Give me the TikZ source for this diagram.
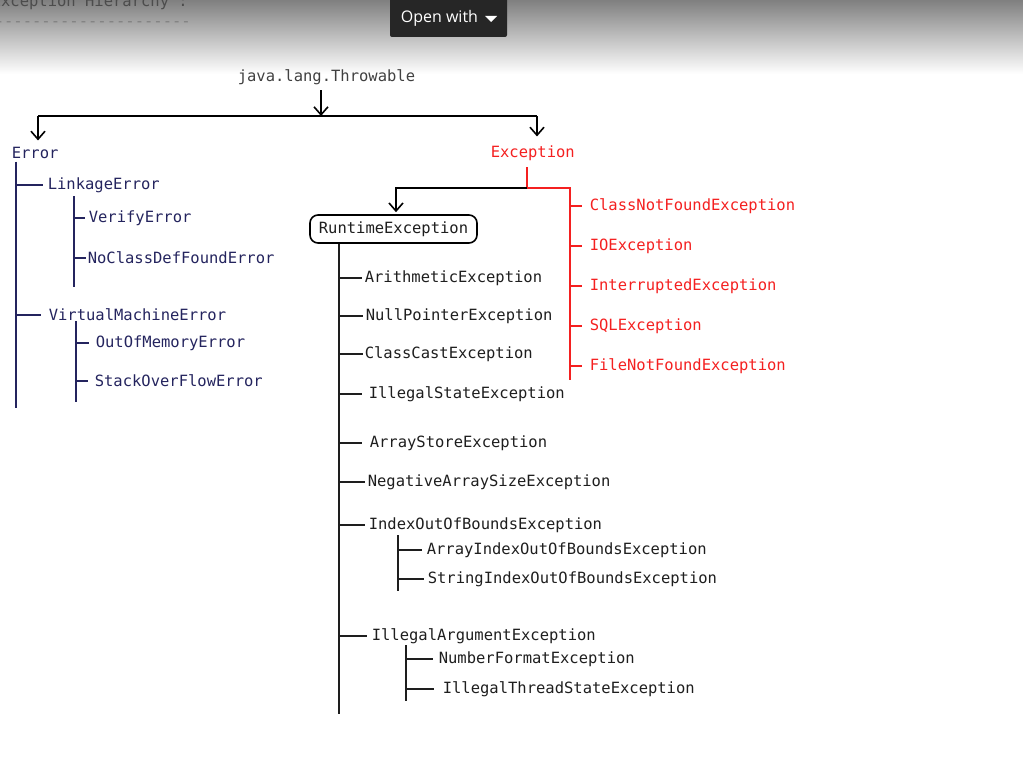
\documentclass[tikz,border=0pt]{standalone}
\usepackage{fontspec}
\setmonofont{DejaVu Sans Mono}
\newfontfamily\btnfont{Open Sans}
\usetikzlibrary{arrows.meta}

\definecolor{errcol}{HTML}{24245E}
\definecolor{exccol}{HTML}{F42020}
\definecolor{rtcol}{HTML}{1E1E1E}
\definecolor{btncol}{HTML}{262626}

\begin{document}
\begin{tikzpicture}[x=1pt,y=-1pt,>={Straight Barb[length=8pt,width=14pt]},line width=1.6pt,
	lbl/.style={anchor=west,inner sep=0pt,yshift=-2pt,font=\ttfamily\fontsize{15.5}{18}\selectfont},
	errlbl/.style={lbl,text=errcol},
	exclbl/.style={lbl,text=exccol},
	rtlbl/.style={lbl,text=rtcol}]

\clip (0,0) rectangle (1023,776);

% viewer bar on top
\shade[top color=black!50,bottom color=white] (0,0) rectangle (1023,74);
\node[lbl,anchor=base west,yshift=0pt,text=black!70] (head) at (-9,5) {Exception Hierarchy :};
\node[lbl,anchor=base west,yshift=0pt,text=black!50] (headline) at (-6,25) {---------------------};
\fill[btncol,rounded corners=2pt] (390,-5) rectangle (507,37);
\node[anchor=west,inner sep=0pt,text=white,font=\btnfont\fontsize{16}{18}\selectfont] (open) at (400,18) {Open with};
\fill[white] (485,16) -- (497,16) -- (491,22) -- cycle;

% root
\node[rtlbl,text=black!75] (thr) at (237,75) {java.lang.Throwable};
\node[errlbl] (err) at (11,151) {Error};
\node[exclbl] (exc) at (490,151) {Exception};

\coordinate (split) at (321,116);
\coordinate (errTop) at (38,116);
\coordinate (excTop) at (537,116);

\draw[->] (split |- thr.south) ++(0,5) -- (split);
\draw (errTop) -- (excTop);
\draw[->,shorten >=6pt] (errTop) -- (errTop |- err.north);
\draw[->,shorten >=10pt] (excTop) -- (excTop |- err.north);

% Error side
\node[errlbl] (link) at (47,183) {LinkageError};
\node[errlbl] (ver) at (88,216) {VerifyError};
\node[errlbl] (ncdf) at (87,256) {NoClassDefFoundError};
\node[errlbl] (vme) at (48,313) {VirtualMachineError};
\node[errlbl] (oom) at (95,341) {OutOfMemoryError};
\node[errlbl] (soe) at (94,379) {StackOverFlowError};

\coordinate (errBot) at (16,408);
\coordinate (linkTop) at (74,196);
\coordinate (linkBot) at (74,287);
\coordinate (vmeTop) at (76,321);
\coordinate (vmeBot) at (76,402);

\begin{scope}[errcol]
\draw (errBot |- err.south) ++(0,2) -- (errBot);
\draw (errBot |- link.west) -- ([xshift=-4pt]link.west);
\draw (errBot |- vme.west) -- ([xshift=-7pt]vme.west);
\draw (linkTop) -- (linkBot);
\draw (linkTop |- ver.west) -- ([xshift=-3pt]ver.west);
\draw (linkTop |- ncdf.west) -- ([xshift=-1pt]ncdf.west);
\draw (vmeTop) -- (vmeBot);
\draw (vmeTop |- oom.west) -- ([xshift=-6pt]oom.west);
\draw (vmeTop |- soe.west) -- ([xshift=-6pt]soe.west);
\end{scope}

% checked exceptions
\node[exclbl] (cnf) at (589,204) {ClassNotFoundException};
\node[exclbl] (ioe) at (589,244) {IOException};
\node[exclbl] (ie) at (589,284) {InterruptedException};
\node[exclbl] (sql) at (589,324) {SQLException};
\node[exclbl] (fnf) at (589,364) {FileNotFoundException};

\coordinate (excFork) at (527,188);
\coordinate (redBot) at (570,380);

\begin{scope}[exccol]
\draw (excFork |- exc.south) ++(0,6) -- (excFork) -- (excFork -| redBot) -- (redBot);
\draw (redBot |- cnf.west) -- ([xshift=-7pt]cnf.west);
\draw (redBot |- ioe.west) -- ([xshift=-7pt]ioe.west);
\draw (redBot |- ie.west) -- ([xshift=-7pt]ie.west);
\draw (redBot |- sql.west) -- ([xshift=-7pt]sql.west);
\draw (redBot |- fnf.west) -- ([xshift=-7pt]fnf.west);
\end{scope}

% unchecked exceptions
\node[rtlbl,draw=black,rounded corners=8pt,anchor=center,yshift=0pt,minimum width=167pt,minimum height=28pt] (rt) at (393.5,227) {RuntimeException};

\coordinate (rtFork) at (396,188);
\draw[->,shorten >=2pt] (excFork) -- (rtFork) -- (rtFork |- rt.north);

\node[rtlbl] (ari) at (364,276) {ArithmeticException};
\node[rtlbl] (npe) at (365,314) {NullPointerException};
\node[rtlbl] (cce) at (364,352) {ClassCastException};
\node[rtlbl] (ise) at (368,392) {IllegalStateException};
\node[rtlbl] (ase) at (369,441) {ArrayStoreException};
\node[rtlbl] (nas) at (367,480) {NegativeArraySizeException};
\node[rtlbl] (iob) at (368,523) {IndexOutOfBoundsException};
\node[rtlbl] (aiob) at (426,548) {ArrayIndexOutOfBoundsException};
\node[rtlbl] (siob) at (427,577) {StringIndexOutOfBoundsException};
\node[rtlbl] (iae) at (371,634) {IllegalArgumentException};
\node[rtlbl] (nfe) at (438,657) {NumberFormatException};
\node[rtlbl] (itse) at (442,687) {IllegalThreadStateException};

\coordinate (rtBot) at (339,714);
\coordinate (iobTop) at (398,535);
\coordinate (iobBot) at (398,591);
\coordinate (iaeTop) at (406,645);
\coordinate (iaeBot) at (406,701);

\begin{scope}[rtcol]
\draw (rtBot |- rt.south) -- (rtBot);
\draw (rtBot |- ari.west) -- ([xshift=-2pt]ari.west);
\draw (rtBot |- npe.west) -- ([xshift=-2pt]npe.west);
\draw (rtBot |- cce.west) -- ([xshift=-1pt]cce.west);
\draw (rtBot |- ise.west) -- ([xshift=-6pt]ise.west);
\draw (rtBot |- ase.west) -- ([xshift=-7pt]ase.west);
\draw (rtBot |- nas.west) -- ([xshift=-2pt]nas.west);
\draw (rtBot |- iob.west) -- ([xshift=-3pt]iob.west);
\draw (rtBot |- iae.west) -- ([xshift=-4pt]iae.west);
\draw (iobTop) -- (iobBot);
\draw (iobTop |- aiob.west) -- ([xshift=-4pt]aiob.west);
\draw (iobTop |- siob.west) -- ([xshift=-3pt]siob.west);
\draw (iaeTop) -- (iaeBot);
\draw (iaeTop |- nfe.west) -- ([xshift=-5pt]nfe.west);
\draw (iaeTop |- itse.west) -- ([xshift=-8pt]itse.west);
\end{scope}

\end{tikzpicture}
\end{document}
